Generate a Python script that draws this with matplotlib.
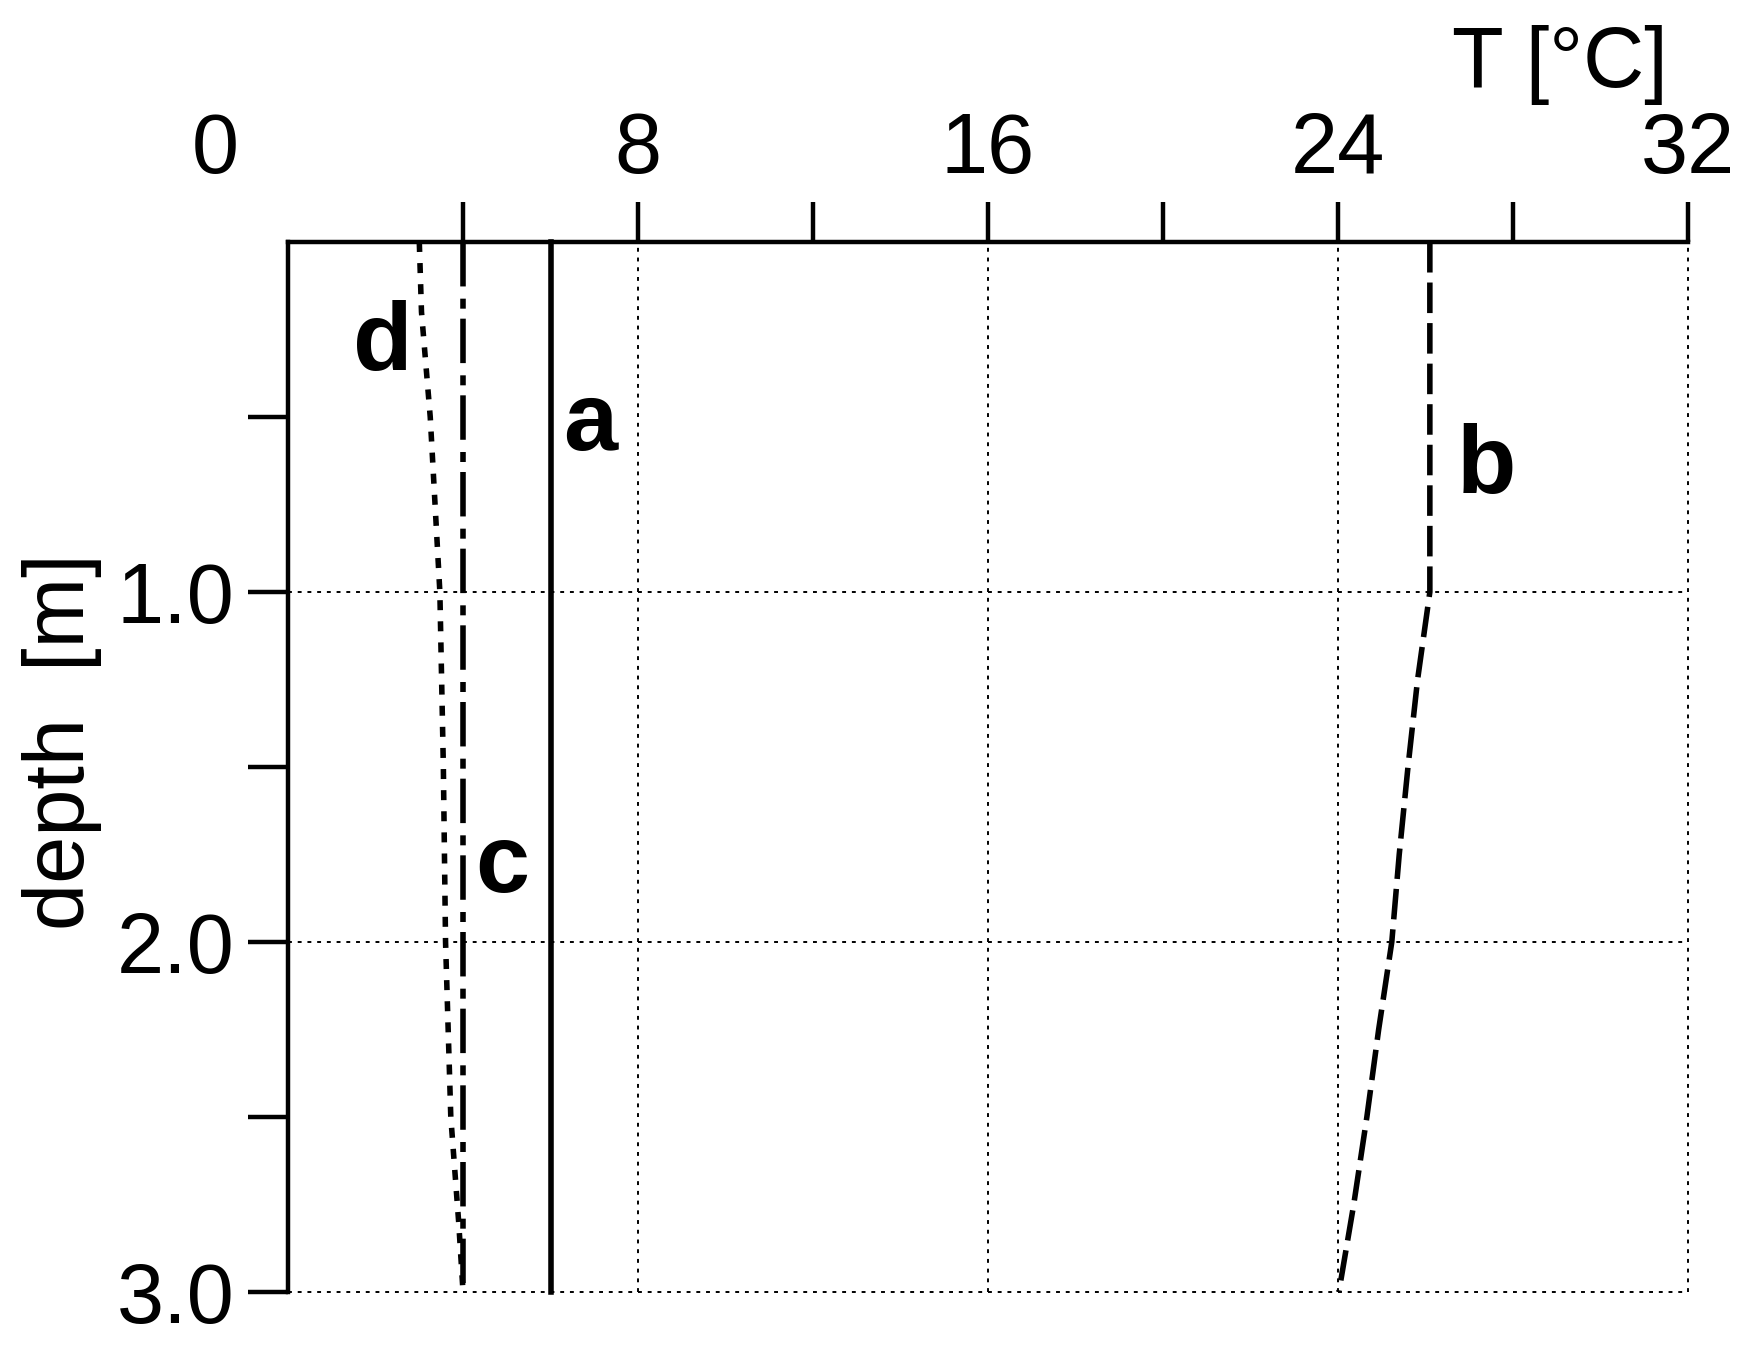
"""Temperature profiles against depth, curves a-d."""

import matplotlib

matplotlib.use("Agg")

import matplotlib.pyplot as plt
from matplotlib.transforms import ScaledTranslation

# profile data: temperature [deg C] at depth [m]
depth_a = [0.0, 3.0]
temp_a = [6.0, 6.0]

depth_b = [0.0, 1.0, 1.25, 1.5, 1.75, 2.0, 2.25, 2.5, 2.75, 3.0]
temp_b = [26.1, 26.1, 25.82, 25.6, 25.4, 25.23, 24.93, 24.66, 24.36, 24.02]

depth_c = [0.0, 3.0]
temp_c = [4.0, 4.0]

depth_d = [0.0, 0.2, 0.5, 1.0, 1.5, 2.0, 2.5, 2.8, 3.0]
temp_d = [3.0, 3.05, 3.25, 3.47, 3.55, 3.6, 3.72, 3.9, 4.0]

curve_names = ["a", "b", "c", "d"]
name_temp = [6.9, 27.4, 4.89, 2.17]
name_depth = [0.594, 0.717, 1.857, 0.366]

x_major = [0, 8, 16, 24, 32]
x_minor = [4, 12, 20, 28]
y_major = [1.0, 2.0, 3.0]
y_minor = [0.5, 1.5, 2.5]

plt.rcParams["font.family"] = ["Liberation Sans", "DejaVu Sans"]

fig = plt.figure(figsize=(17.49, 13.45), dpi=100)
ax = fig.add_axes([0.1647, 0.0394, 0.8004, 0.7807])

line_kw = dict(color="black", lw=4.0, clip_on=False, zorder=3)
ax.plot(temp_a, depth_a, linestyle="-", **line_kw)
ax.plot(temp_b, depth_b, linestyle=(0, (5.5, 1.8)), **line_kw)
ax.plot(temp_c, depth_c, linestyle=(0, (8, 2.2, 1.8, 1.8)), **line_kw)
ax.plot(temp_d, depth_d, linestyle=(0, (1.8, 2)), **line_kw)

for name, tx, ty in zip(curve_names, name_temp, name_depth):
    ax.text(tx, ty, name, fontsize=70, fontweight="bold",
            ha="center", va="baseline", zorder=4)

ax.set_xlim(0, 32)
ax.set_ylim(3.0, 0.0)

ax.xaxis.tick_top()
ax.set_xticks(x_major)
ax.set_xticks(x_minor, minor=True)
ax.set_xticklabels([str(v) for v in x_major])
ax.set_yticks(y_major)
ax.set_yticks(y_minor, minor=True)
ax.set_yticklabels([f"{v:.1f}" for v in y_major])

ax.tick_params(axis="x", which="both", direction="out", length=28.8,
               width=3.2, labelsize=61, pad=8)
ax.tick_params(axis="y", which="both", direction="out", length=28.8,
               width=3.2, labelsize=61, pad=10)

for side in ("bottom", "right"):
    ax.spines[side].set_visible(False)
for side in ("top", "left"):
    ax.spines[side].set_linewidth(3.2)

ax.grid(True, which="major", color="black", lw=1.4, linestyle=(0, (2, 3)))
for tick in ax.xaxis.get_major_ticks() + ax.yaxis.get_major_ticks():
    tick.gridline.set_clip_on(False)

# the "0" label sits left of the corner, no tick mark there
zero_tick = ax.xaxis.get_major_ticks()[0]
zero_tick.tick1line.set_visible(False)
zero_tick.tick2line.set_visible(False)
zero_tick.gridline.set_visible(False)
shift = ScaledTranslation(-0.73, 0, fig.dpi_scale_trans)
zero_tick.label2.set_transform(zero_tick.label2.get_transform() + shift)

ax.set_ylabel("depth  [m]", fontsize=61, ha="center", va="center")
ax.yaxis.set_label_coords(-0.1614, 0.5238)

ax.text(0.9086, 1.1476, "T [°C]", transform=ax.transAxes, fontsize=61,
        ha="center", va="baseline")

fig.savefig("out.png", dpi=100)
